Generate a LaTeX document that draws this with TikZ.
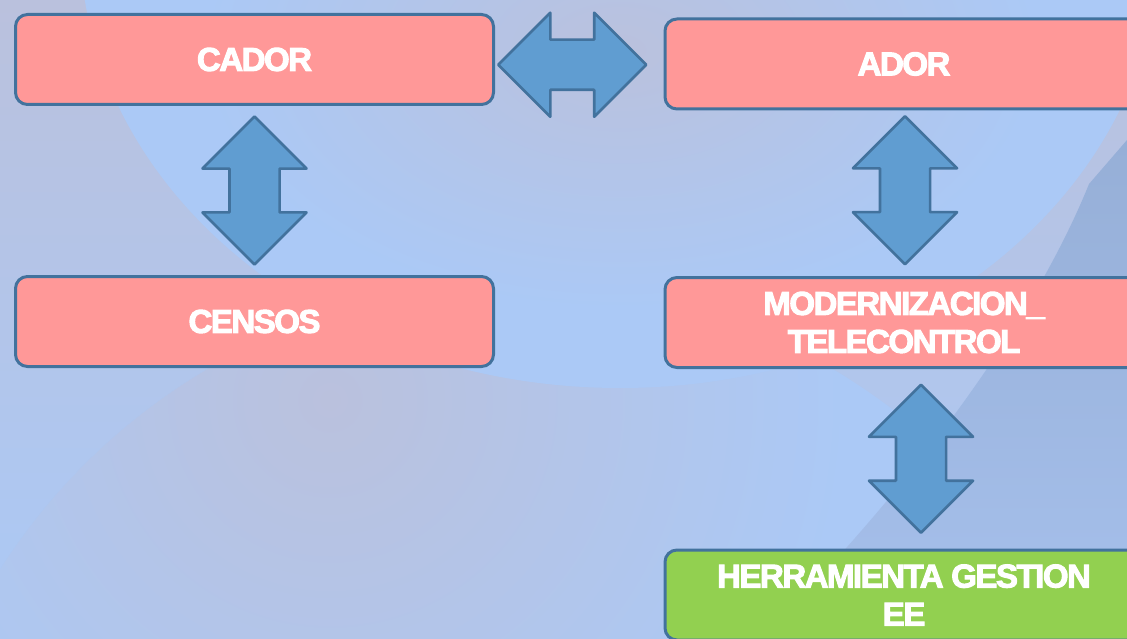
\documentclass[tikz,border=0pt]{standalone}
\usepackage{fontspec}
\newfontfamily\boxfont[UprightFont=* Bold, LetterSpace=-4.5, FakeBold=3]{Liberation Sans}
\usetikzlibrary{calc,shapes.arrows}
\definecolor{bgblue}{RGB}{171,201,246}
\definecolor{bggrey}{RGB}{186,193,221}
\definecolor{bgdark}{RGB}{150,175,215}
\definecolor{bgdarklow}{RGB}{166,192,236}
\definecolor{boxline}{RGB}{66,114,157}
\definecolor{boxpink}{RGB}{255,152,152}
\definecolor{boxgreen}{RGB}{146,208,80}
\definecolor{arrowblue}{RGB}{96,157,209}
\tikzset{
  box/.style={draw=boxline, line width=3pt, rounded corners=12pt, fill=boxpink,
    text=white, minimum width=478pt, minimum height=90pt, inner sep=0pt, align=center,
    font=\boxfont\fontsize{33}{38}\selectfont},
  greenbox/.style={box, fill=boxgreen},
  link/.style={double arrow, draw=boxline, line width=2.6pt, line join=round, fill=arrowblue,
    minimum height=148pt, inner xsep=0pt, inner ysep=23.75pt, double arrow head extend=27pt,
    double arrow tip angle=90}
}
\begin{document}
\begin{tikzpicture}[x=1pt,y=1pt]
\useasboundingbox (0,0) rectangle (1127,-639);
\clip (0,0) rectangle (1127,-639);
\shade[top color=bggrey, bottom color=bgblue] (0,0) rectangle (1127,-639);
\begin{scope}
  \clip (520,-900) circle (616);
  \fill[bgblue] (0,0) rectangle (1127,-639);
  \shade[inner color=bggrey, outer color=bgblue] (330,-400) circle (520);
\end{scope}
\fill[bgblue] (620,60) ellipse (540 and 448);
\begin{scope}
  \clip (620,60) ellipse (540 and 448);
  \shade[inner color=bggrey, outer color=bgblue] (620,-50) ellipse (420 and 260);
\end{scope}
\shade[top color=bgdark, bottom color=bgdarklow] (1127,-140) -- (1089,-184)
  .. controls (1030,-330) and (900,-500) .. (760,-639) -- (1127,-639) -- cycle;

\node[box] (cador) at (254.5,-59.5) {CADOR};
\node[box] (censos) at (254.5,-321.5) {CENSOS};
\node[box] (ador) at (904,-64) {ADOR};
\node[box] (modern) at (904,-322.5) {MODERNIZACION\_\\TELECONTROL};
\node[greenbox] (herr) at (904,-595) {HERRAMIENTA GESTION\\EE};

\node[link] (a1) at ($(cador.east)!0.5!(ador.west)+(-7,-3)$) {};
\node[link, rotate=90] (a2) at ($(cador.south)!0.5!(censos.north)$) {};
\node[link, rotate=90] (a3) at ($(ador.south)!0.5!(modern.north)+(1,3)$) {};
\node[link, rotate=90] (a4) at ($(modern.south)!0.5!(herr.north)+(17,0)$) {};
\end{tikzpicture}
\end{document}
